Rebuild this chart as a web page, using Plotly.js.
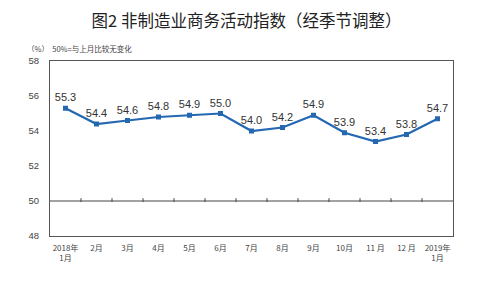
<!DOCTYPE html>
<html><head><meta charset="utf-8">
<script src="https://cdn.plot.ly/plotly-3.0.1.min.js"></script>
<style>html,body{margin:0;padding:0;background:#fff}</style>
</head><body>
<div id="chart" style="width:500px;height:281px"></div>
<script>
const months = ["2018年<br>1月","2月","3月","4月","5月","6月","7月","8月","9月","10月","11 月","12 月","2019年<br>1月"];
const values = [55.3, 54.4, 54.6, 54.8, 54.9, 55.0, 54.0, 54.2, 54.9, 53.9, 53.4, 53.8, 54.7];
const yTicks = [48, 50, 52, 54, 56, 58];
const baseline = 50;

const cjk = '"Noto Sans CJK SC", "Liberation Sans", sans-serif';
const num = '"Liberation Sans", Arial, sans-serif';

const trace = {
  x: months, y: values, type: 'scatter', mode: 'lines+markers+text',
  line: {color: '#2568b2', width: 2.2},
  marker: {symbol: 'square', size: 5, color: '#2568b2'},
  text: values.map(v => v.toFixed(1)), textposition: 'top center',
  textfont: {family: num, size: 11, color: '#333'},
  cliponaxis: false, hoverinfo: 'skip'
};

const shapes = [{type: 'line', xref: 'paper', x0: 0, x1: 1, yref: 'y', y0: baseline, y1: baseline,
  line: {color: '#444', width: 1}}];
for (let k = 1; k < months.length; k++) {
  shapes.push({type: 'line', xref: 'x', x0: k - 0.5, x1: k - 0.5, yref: 'y', y0: baseline - 0.06, y1: baseline + 0.16,
    line: {color: '#444', width: 1}});
}

const layout = {
  width: 500, height: 281,
  margin: {l: 50, r: 47, t: 61, b: 45},
  paper_bgcolor: '#fff', plot_bgcolor: '#fff',
  showlegend: false,
  title: {text: '图2 非制造业商务活动指数（经季节调整）', x: 0.493, xref: 'container', xanchor: 'center',
    y: 1 - 21/281, yref: 'container', yanchor: 'middle',
    font: {family: cjk, size: 16.5, color: '#222'}},
  xaxis: {type: 'category', showgrid: false, zeroline: false, showline: true, mirror: true,
    linecolor: '#555', linewidth: 1, ticks: '', range: [-0.5, months.length - 0.5], ticklabelstandoff: 4,
    tickfont: {family: cjk, size: 8, color: '#444'}, fixedrange: true},
  yaxis: {range: [48, 58], tickvals: yTicks, showgrid: false, zeroline: false, showline: true, mirror: true,
    linecolor: '#555', linewidth: 1, ticks: '', ticklabelstandoff: 8,
    tickfont: {family: num, size: 9.5, color: '#444'}, fixedrange: true},
  shapes: shapes,
  annotations: [{text: '（%）  50%=与上月比较无变化', xref: 'paper', yref: 'paper',
    x: -0.062, y: 1 + 13/175, xanchor: 'left', yanchor: 'middle', showarrow: false,
    font: {family: cjk, size: 7.5, color: '#444'}}]
};

Plotly.newPlot('chart', [trace], layout, {staticPlot: true, displayModeBar: false});
</script>
</body></html>
